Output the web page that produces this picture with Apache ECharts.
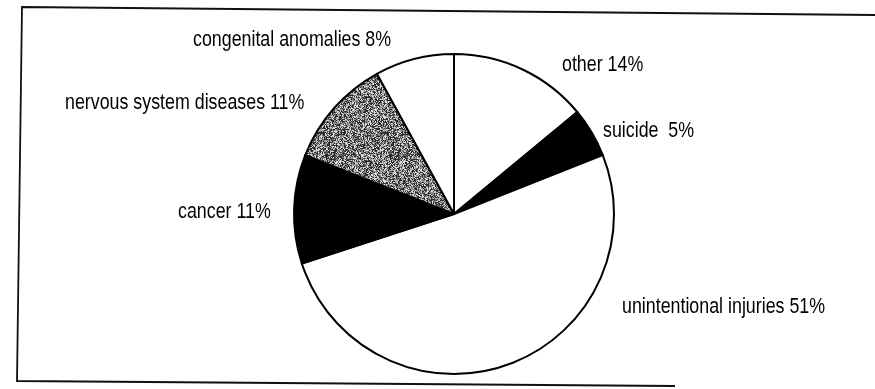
<!DOCTYPE html>
<html>
<head>
<meta charset="utf-8">
<script src="https://cdn.jsdelivr.net/npm/echarts@6/dist/echarts.min.js"></script>
<style>
  html, body { margin: 0; padding: 0; background: #fff; }
  #chart { width: 875px; height: 389px; }
</style>
</head>
<body>
<div id="chart"></div>
<script>
// Causes of death, share of total (%), clockwise from 12 o'clock
const categories = ['other', 'suicide', 'unintentional injuries', 'cancer', 'nervous system diseases', 'congenital anomalies'];
const shares = [14, 5, 51, 11, 11, 8];

// Label anchor (left edge, vertical middle) for each slice, in pixels
const labelAnchors = [
  [562, 65], [603, 131], [622, 307], [178, 212], [65, 103], [193, 40]
];

// Speckled grey screen for the hatched slice (deterministic hash dither)
function speckle() {
  const c = document.createElement('canvas');
  c.width = 64; c.height = 64;
  const ctx = c.getContext('2d');
  const img = ctx.createImageData(64, 64);
  for (let y = 0; y < 64; y++) {
    for (let x = 0; x < 64; x++) {
      let h = (x * 374761393 + y * 668265263) >>> 0;
      h = ((h ^ (h >>> 13)) * 1274126177) >>> 0;
      const v = (h >>> 24) & 255;
      const g = v < 100 ? 45 : (v < 185 ? 135 : 215);
      const k = (y * 64 + x) * 4;
      img.data[k] = img.data[k + 1] = img.data[k + 2] = g;
      img.data[k + 3] = 255;
    }
  }
  ctx.putImageData(img, 0, 0);
  return c;
}

const sliceColors = ['#ffffff', '#000000', '#ffffff', '#000000',
  { image: speckle(), repeat: 'repeat' }, '#ffffff'];

const chart = echarts.init(document.getElementById('chart'), null, { renderer: 'canvas' });

const FONT = "'Liberation Sans', Arial, sans-serif";

// Condensed sans labels: regular sans squeezed horizontally
const labelGraphics = categories.map((name, i) => ({
  type: 'text',
  x: labelAnchors[i][0],
  y: labelAnchors[i][1],
  scaleX: 0.81,
  silent: true,
  style: {
    text: name + (name === 'suicide' ? '  ' : ' ') + shares[i] + '%',
    font: '22px ' + FONT,
    fill: '#000',
    textAlign: 'left',
    textVerticalAlign: 'middle'
  }
}));

chart.setOption({
  backgroundColor: '#ffffff',
  animation: false,
  graphic: [
    { type: 'polyline', shape: { points: [[875, 15], [22, 7], [17, 381], [675, 386]] },
      style: { stroke: '#111', lineWidth: 1.8, fill: null } }
  ].concat(labelGraphics),
  series: [{
    type: 'pie',
    center: [454, 214],
    radius: 160,
    startAngle: 90,
    clockwise: true,
    silent: true,
    data: categories.map((name, i) => ({
      name,
      value: shares[i],
      itemStyle: { color: sliceColors[i] }
    })),
    itemStyle: { borderColor: '#000', borderWidth: 2 },
    label: { show: false },
    labelLine: { show: false }
  }]
});
</script>
</body>
</html>
